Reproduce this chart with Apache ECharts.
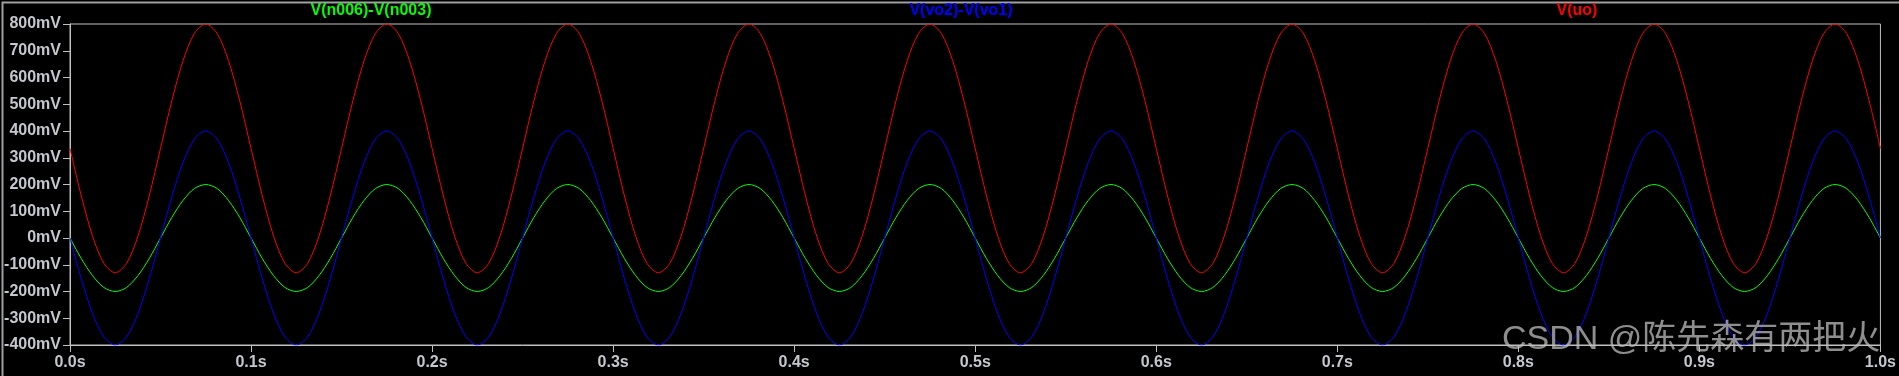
<!DOCTYPE html>
<html>
<head>
<meta charset="utf-8">
<script src="https://cdn.jsdelivr.net/npm/echarts@6/dist/echarts.min.js"></script>
<style>
  html, body { margin: 0; padding: 0; background: #000; }
  #chart { width: 1899px; height: 376px; }
</style>
</head>
<body>
<div id="chart"></div>
<script>
// sample spacing of the traces (s), 16 samples per 0.1 s period
const sampleStep = 0.00625

// V(n006)-V(n003), mV
const greenTrace = [
  0, -77, -141, -185, -200, -185, -141, -77, 0, 77, 141, 185, 200, 185, 141, 77,
  0, -77, -141, -185, -200, -185, -141, -77, 0, 77, 141, 185, 200, 185, 141, 77,
  0, -77, -141, -185, -200, -185, -141, -77, 0, 77, 141, 185, 200, 185, 141, 77,
  0, -77, -141, -185, -200, -185, -141, -77, 0, 77, 141, 185, 200, 185, 141, 77,
  0, -77, -141, -185, -200, -185, -141, -77, 0, 77, 141, 185, 200, 185, 141, 77,
  0, -77, -141, -185, -200, -185, -141, -77, 0, 77, 141, 185, 200, 185, 141, 77,
  0, -77, -141, -185, -200, -185, -141, -77, 0, 77, 141, 185, 200, 185, 141, 77,
  0, -77, -141, -185, -200, -185, -141, -77, 0, 77, 141, 185, 200, 185, 141, 77,
  0, -77, -141, -185, -200, -185, -141, -77, 0, 77, 141, 185, 200, 185, 141, 77,
  0, -77, -141, -185, -200, -185, -141, -77, 0, 77, 141, 185, 200, 185, 141, 77,
  0
]

// V(vo2)-V(vo1), mV
const blueTrace = [
  0, -153, -283, -370, -400, -370, -283, -153, 0, 153, 283, 370, 400, 370, 283, 153,
  0, -153, -283, -370, -400, -370, -283, -153, 0, 153, 283, 370, 400, 370, 283, 153,
  0, -153, -283, -370, -400, -370, -283, -153, 0, 153, 283, 370, 400, 370, 283, 153,
  0, -153, -283, -370, -400, -370, -283, -153, 0, 153, 283, 370, 400, 370, 283, 153,
  0, -153, -283, -370, -400, -370, -283, -153, 0, 153, 283, 370, 400, 370, 283, 153,
  0, -153, -283, -370, -400, -370, -283, -153, 0, 153, 283, 370, 400, 370, 283, 153,
  0, -153, -283, -370, -400, -370, -283, -153, 0, 153, 283, 370, 400, 370, 283, 153,
  0, -153, -283, -370, -400, -370, -283, -153, 0, 153, 283, 370, 400, 370, 283, 153,
  0, -153, -283, -370, -400, -370, -283, -153, 0, 153, 283, 370, 400, 370, 283, 153,
  0, -153, -283, -370, -400, -370, -283, -153, 0, 153, 283, 370, 400, 370, 283, 153,
  0
]

// V(uo), mV
const redTrace = [
  335, 157, 6, -95, -130, -95, 6, 157, 335, 513, 664, 765, 800, 765, 664, 513,
  335, 157, 6, -95, -130, -95, 6, 157, 335, 513, 664, 765, 800, 765, 664, 513,
  335, 157, 6, -95, -130, -95, 6, 157, 335, 513, 664, 765, 800, 765, 664, 513,
  335, 157, 6, -95, -130, -95, 6, 157, 335, 513, 664, 765, 800, 765, 664, 513,
  335, 157, 6, -95, -130, -95, 6, 157, 335, 513, 664, 765, 800, 765, 664, 513,
  335, 157, 6, -95, -130, -95, 6, 157, 335, 513, 664, 765, 800, 765, 664, 513,
  335, 157, 6, -95, -130, -95, 6, 157, 335, 513, 664, 765, 800, 765, 664, 513,
  335, 157, 6, -95, -130, -95, 6, 157, 335, 513, 664, 765, 800, 765, 664, 513,
  335, 157, 6, -95, -130, -95, 6, 157, 335, 513, 664, 765, 800, 765, 664, 513,
  335, 157, 6, -95, -130, -95, 6, 157, 335, 513, 664, 765, 800, 765, 664, 513,
  335
]

const traceNames = ['V(n006)-V(n003)', 'V(vo2)-V(vo1)', 'V(uo)']
const traceColors = ['#00ff00', '#0000ff', '#ff0000']
const traceNameCenters = [371, 961, 1577]
const watermark = 'CSDN @陈先森有两把火'

const toPairs = (vals) => vals.map((v, i) => [i * sampleStep, v])

const labelFont = {
  color: '#c4c8cc',
  fontFamily: '"Liberation Sans", Arial, sans-serif',
  fontWeight: 'bold',
  fontSize: 16,
}

const chart = echarts.init(document.getElementById('chart'))
chart.setOption({
  backgroundColor: '#000',
  animation: false,
  title: traceNames.map((name, i) => ({
    text: name,
    left: traceNameCenters[i],
    top: 3,
    padding: 0,
    textAlign: 'center',
    textStyle: {
      color: traceColors[i],
      fontFamily: '"Liberation Sans", Arial, sans-serif',
      fontWeight: 'bold',
      fontSize: 16,
    },
  })),
  grid: {
    left: 70,
    right: 17,
    top: 24,
    bottom: 31,
    show: true,
    borderColor: '#c0c0c0',
    borderWidth: 1,
    backgroundColor: '#000',
  },
  xAxis: {
    type: 'value',
    min: 0,
    max: 1,
    interval: 0.1,
    axisLine: { onZero: false, lineStyle: { color: '#c0c0c0', width: 1 } },
    axisTick: { length: 7, lineStyle: { color: '#c0c0c0' } },
    splitLine: { show: false },
    axisLabel: {
      ...labelFont,
      margin: 10,
      formatter: (v) => v.toFixed(1) + 's',
    },
  },
  yAxis: {
    type: 'value',
    min: -400,
    max: 800,
    interval: 100,
    axisLine: { show: true, onZero: false, lineStyle: { color: '#c0c0c0', width: 1 } },
    axisTick: { show: true, length: 7, lineStyle: { color: '#c0c0c0' } },
    splitLine: { show: false },
    axisLabel: {
      ...labelFont,
      margin: 9,
      formatter: (v) => v + 'mV',
    },
  },
  series: [greenTrace, blueTrace, redTrace].map((vals, i) => ({
    name: traceNames[i],
    type: 'line',
    data: toPairs(vals),
    showSymbol: false,
    smooth: 0.3,
    lineStyle: { color: traceColors[i], width: 1 },
  })),
  graphic: [
    {
      type: 'rect',
      left: 0,
      top: 0,
      shape: { width: 1898, height: 375 },
      style: { fill: null, stroke: '#a0a0a0', lineWidth: 2 },
      silent: true,
    },
    {
      type: 'text',
      left: 1502,
      top: 323,
      z: 100,
      style: {
        text: watermark,
        fill: 'rgba(190,190,190,0.75)',
        font: '34px "Liberation Sans", "Noto Sans CJK SC", sans-serif',
      },
      silent: true,
    },
  ],
})
</script>
</body>
</html>
